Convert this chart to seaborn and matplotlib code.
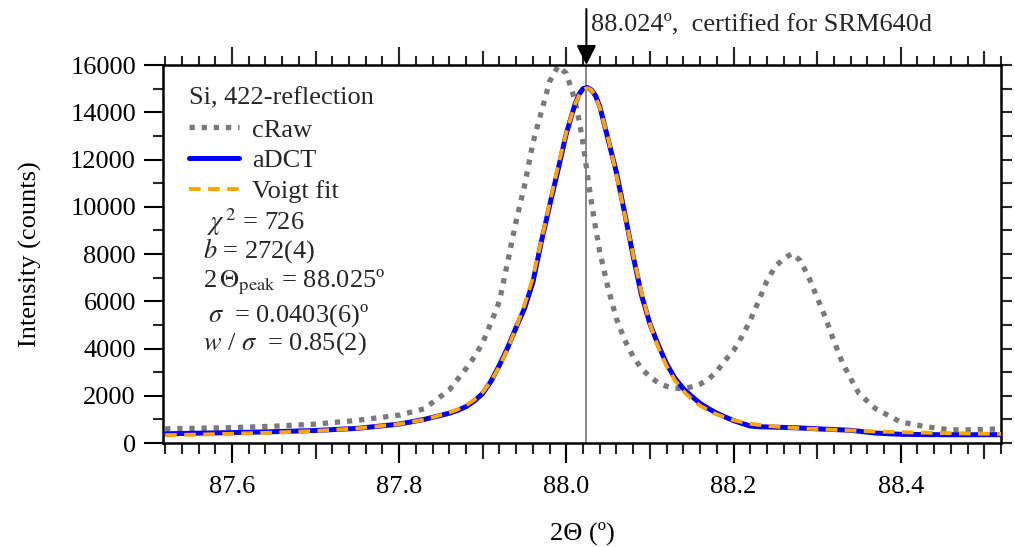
import matplotlib
matplotlib.use("Agg")
import matplotlib.pyplot as plt
import matplotlib.transforms as mtransforms
from matplotlib.ticker import MultipleLocator, NullFormatter
import seaborn as sns

# 2-theta positions (degrees) and intensities (counts)
two_theta = [87.52, 87.55, 87.60, 87.65, 87.70, 87.75, 87.80, 87.83, 87.86, 87.87,
             87.88, 87.89, 87.90, 87.91, 87.92, 87.93, 87.94, 87.95, 87.96, 87.97,
             87.98, 87.99, 88.00, 88.01, 88.015, 88.02, 88.025, 88.03, 88.035, 88.04,
             88.05, 88.06, 88.07, 88.08, 88.09, 88.10, 88.11, 88.12, 88.13, 88.14,
             88.15, 88.16, 88.17, 88.18, 88.19, 88.20, 88.21, 88.22, 88.23, 88.24,
             88.25, 88.26, 88.27, 88.28, 88.29, 88.30, 88.31, 88.32, 88.33, 88.34,
             88.35, 88.37, 88.40, 88.43, 88.46, 88.49, 88.52]

craw = [600, 620, 650, 710, 800, 960, 1180, 1450, 2250, 2700,
        3150, 3650, 4250, 5100, 6000, 7700, 9400, 10900, 12700, 14000,
        15300, 15950, 15650, 14550, 13700, 12700, 11400, 10200, 9100, 8100,
        6550, 5250, 4350, 3650, 3150, 2800, 2550, 2400, 2320, 2300,
        2380, 2490, 2700, 3030, 3500, 3910, 4500, 5190, 6010, 6870,
        7470, 7800, 8020, 7720, 7020, 6160, 5310, 4330, 3420, 2740,
        2100, 1450, 890, 690, 555, 560, 600]

adct = [390, 410, 440, 480, 530, 620, 800, 1000, 1260, 1380,
        1540, 1780, 2100, 2620, 3300, 4050, 4900, 5700, 6800, 8500,
        10050, 11550, 13100, 14300, 14750, 15000, 15050, 14950, 14700, 14250,
        12850, 11450, 9700, 7900, 6250, 5050, 4150, 3350, 2740, 2300,
        1980, 1680, 1460, 1260, 1100, 950, 830, 720, 690, 680,
        670, 660, 650, 635, 620, 600, 585, 570, 555, 537,
        500, 420, 370, 355, 350, 350, 355]

voigt = [330, 350, 390, 440, 510, 620, 800, 990, 1290, 1420,
         1600, 1830, 2150, 2620, 3250, 4000, 4900, 5850, 7000, 8550,
         10150, 11700, 13150, 14300, 14700, 14950, 15020, 14950, 14650, 14200,
         12900, 11350, 9650, 7950, 6350, 5050, 4050, 3250, 2650, 2200,
         1850, 1580, 1380, 1210, 1080, 970, 890, 820, 770, 730,
         700, 670, 645, 625, 605, 590, 575, 560, 545, 530,
         515, 490, 460, 435, 415, 400, 385]

series_labels = ["cRaw", "aDCT", "Voigt fit"]
legend_title = "Si, 422-reflection"
fit_lines = [r"$\chi^{\,2}$ = 726",
             r"$b$ = 272(4)",
             r"2$\,\Theta_{\rm peak}$ = 88.025º",
             r"$\sigma$  = 0.0403(6)º",
             r"$w$ / $\sigma$  = 0.85(2)"]
certified_peak = 88.024
certified_text = "88.024º,  certified for SRM640d"

sns.set_theme(style="ticks")
plt.rcParams["font.family"] = ["Liberation Serif", "DejaVu Serif"]
plt.rcParams["mathtext.fontset"] = "stix"
plt.rcParams["axes.linewidth"] = 1.8

fs = 19
fig = plt.figure(figsize=(10.15, 5.47), dpi=100)
ax = fig.add_axes([0.1606, 0.1901, 0.8256, 0.6910])

ax.axvline(certified_peak, color="#808080", lw=1.3, zorder=1)
sns.lineplot(x=two_theta, y=craw, ax=ax, color="#7a7a7a", lw=3.8,
             linestyle=(0, (1, 1.3)), label=series_labels[0], zorder=2)
sns.lineplot(x=two_theta, y=adct, ax=ax, color="#0000ff", lw=3.6,
             label=series_labels[1], zorder=3)
sns.lineplot(x=two_theta, y=voigt, ax=ax, color="#ffa500", lw=2.8,
             linestyle=(0, (3.0, 1.9)), label=series_labels[2], zorder=4)

ax.set_xlim(87.5175, 88.52)
ax.set_ylim(0, 16000)
for s in ax.spines.values():
    s.set_visible(True)
    s.set_color("black")

# bottom / left ticks
ax.xaxis.set_major_locator(MultipleLocator(0.2))
ax.xaxis.set_minor_locator(MultipleLocator(0.02))
ax.yaxis.set_major_locator(MultipleLocator(2000))
ax.yaxis.set_minor_locator(MultipleLocator(1000))
ax.xaxis.set_major_formatter(plt.FuncFormatter(lambda v, p: f"{v:.1f}"))
ax.tick_params(axis="x", which="major", direction="out", length=14.4, width=1.5,
               labelsize=fs, pad=9, colors="black")
ax.tick_params(axis="x", which="minor", direction="out", length=7.9, width=1.5)
ax.tick_params(axis="y", which="major", direction="out", length=13.5, width=1.5,
               labelsize=fs, pad=6, colors="black")
ax.tick_params(axis="y", which="minor", direction="out", length=7.2, width=1.5)

sec_b = ax.secondary_xaxis("bottom")
sec_b.xaxis.set_major_locator(MultipleLocator(0.1))
sec_b.xaxis.set_major_formatter(NullFormatter())
sec_b.tick_params(direction="out", length=11.5, width=1.5)
sec_b.spines["bottom"].set_visible(False)

sec_t = ax.secondary_xaxis("top")
sec_t.xaxis.set_major_locator(MultipleLocator(0.2))
sec_t.xaxis.set_minor_locator(MultipleLocator(0.02))
sec_t.xaxis.set_major_formatter(NullFormatter())
sec_t.tick_params(which="major", direction="out", length=13, width=1.5)
sec_t.tick_params(which="minor", direction="out", length=6.5, width=1.5)
sec_t.spines["top"].set_visible(False)

sec_t2 = ax.secondary_xaxis("top")
sec_t2.xaxis.set_major_locator(MultipleLocator(0.1))
sec_t2.xaxis.set_major_formatter(NullFormatter())
sec_t2.tick_params(direction="out", length=10, width=1.5)
sec_t2.spines["top"].set_visible(False)

sec_r = ax.secondary_yaxis("right")
sec_r.yaxis.set_major_locator(MultipleLocator(1000))
sec_r.yaxis.set_major_formatter(NullFormatter())
sec_r.tick_params(direction="out", length=8, width=1.5)
sec_r.spines["right"].set_visible(False)

ax.set_xlabel("2Θ (º)", fontsize=fs, labelpad=17, color="black")
ax.set_ylabel("Intensity (counts)", fontsize=fs, labelpad=20, color="black")

leg = ax.legend(loc="upper left", bbox_to_anchor=(0.031, 0.94), frameon=False,
                fontsize=fs, title=legend_title, title_fontsize=fs,
                alignment="left", handlelength=1.9, handletextpad=0.5,
                labelspacing=0.28, borderpad=0, borderaxespad=0)
leg._legend_box.sep = 6

ybase = [0.565, 0.491, 0.411, 0.321, 0.247]
xoff = [0.052, 0.048, 0.048, 0.054, 0.048]
for txt, xf, yf in zip(fit_lines, xoff, ybase):
    ax.text(xf, yf, txt, transform=ax.transAxes, fontsize=fs, va="baseline", ha="left")

blend = mtransforms.blended_transform_factory(ax.transData, ax.transAxes)
ax.annotate("", xy=(certified_peak, 1.0), xycoords=blend,
            xytext=(certified_peak, 1.148), textcoords=blend,
            arrowprops=dict(arrowstyle="-|>,head_length=0.4,head_width=0.2",
                            mutation_scale=30, lw=1.5, color="black",
                            shrinkA=0, shrinkB=0), annotation_clip=False)
ax.text(certified_peak + 0.006, 1.108, certified_text, transform=blend,
        fontsize=fs, va="center", ha="left")

fig.savefig("out.png", dpi=100)
